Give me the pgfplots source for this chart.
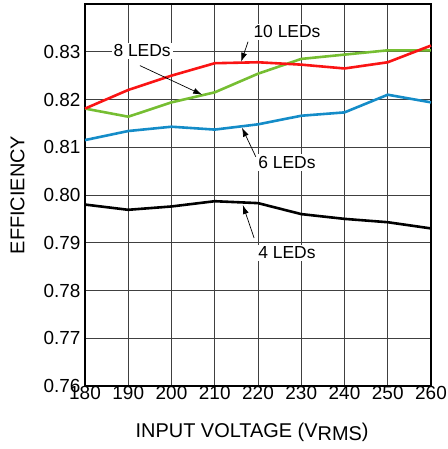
\documentclass[border=0pt]{standalone}
\usepackage{fontspec}
\setmainfont{Liberation Sans}
\usepackage{pgfplots}
\pgfplotsset{compat=1.18}
\usetikzlibrary{arrows.meta}
\definecolor{cred}{RGB}{250,20,20}
\definecolor{cgreen}{RGB}{118,190,50}
\definecolor{cblue}{RGB}{20,140,200}
\tikzset{ledlabel/.style={fill=white, inner sep=2bp, font=\fontsize{17.5}{19}\selectfont}}
\begin{document}
\begin{tikzpicture}
\begin{axis}[
  scale only axis, width=346bp, height=382bp,
  xmin=180, xmax=260, ymin=0.76, ymax=0.84,
  xtick={180,190,...,260},
  ytick={0.76,0.77,...,0.83},
  yticklabels={0.76,0.77,0.78,0.79,0.80,0.81,0.82,0.83},
  /pgf/number format/assume math mode=true,
  tick label style={font=\fontsize{19}{20}\selectfont},
  major tick length=0pt,
  xmajorgrids, ymajorgrids,
  grid style={black!75, line width=0.75bp},
  axis line style={line width=2.5bp},
  xticklabel style={yshift=3bp},
  yticklabel style={xshift=-1bp},
  xlabel={INPUT VOLTAGE (V\raisebox{-3bp}{RMS})},
  ylabel={EFFICIENCY},
  label style={font=\fontsize{20}{22}\selectfont},
  xlabel style={at={(axis description cs:0.483,0)}, anchor=base, yshift=-51bp},
  ylabel style={at={(axis description cs:-0.195,0.5)}, anchor=center},
  every axis plot/.append style={line width=2.6bp},
  clip=false,
]
\addplot[black] coordinates {(180,0.798) (190,0.7969) (200,0.7976) (210,0.7987) (220,0.7983) (230,0.796) (240,0.795) (250,0.7943) (260,0.793)};
\addplot[cblue] coordinates {(180,0.8115) (190,0.8134) (200,0.8143) (210,0.8137) (220,0.8148) (230,0.8166) (240,0.8173) (250,0.821) (260,0.8194)};
\addplot[cgreen] coordinates {(180,0.8181) (190,0.8164) (200,0.8194) (210,0.8215) (220,0.8254) (230,0.8285) (240,0.8294) (250,0.8303) (260,0.8303)};
\addplot[cred] coordinates {(180,0.8181) (190,0.822) (200,0.825) (210,0.8276) (220,0.8278) (230,0.8273) (240,0.8265) (250,0.8278) (260,0.8313)};
\node[ledlabel] at (axis cs:226.7,0.8342) {10 LEDs};
\node[ledlabel] at (axis cs:193.2,0.8302) {8 LEDs};
\node[ledlabel] at (axis cs:226.7,0.8068) {6 LEDs};
\node[ledlabel] at (axis cs:226.7,0.7879) {4 LEDs};
\draw[line width=0.7bp, -{Latex[length=9bp,width=6bp]}] (axis cs:217.7,0.8321) -- (axis cs:216.1,0.8279);
\draw[line width=0.7bp, -{Latex[length=9bp,width=6bp]}] (axis cs:192.7,0.8271) -- (axis cs:207.1,0.8210);
\draw[line width=0.7bp, -{Latex[length=9bp,width=6bp]}] (axis cs:219.5,0.8080) -- (axis cs:216.3,0.8141);
\draw[line width=0.7bp, -{Latex[length=9bp,width=6bp]}] (axis cs:219.1,0.7910) -- (axis cs:216.5,0.7979);
\end{axis}
\pgfresetboundingbox
\path[use as bounding box] (-85bp,-63bp) rectangle (363bp,386bp);
\end{tikzpicture}
\end{document}
